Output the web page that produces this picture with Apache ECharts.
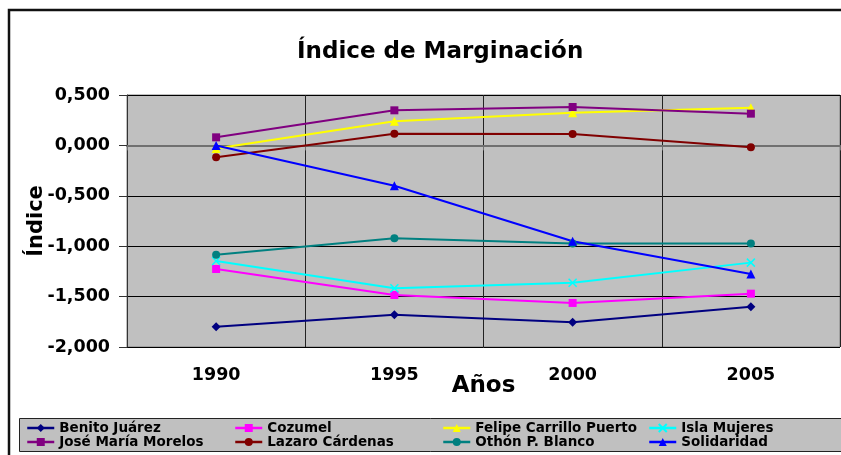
<!DOCTYPE html>
<html>
<head>
<meta charset="utf-8">
<script src="https://cdn.jsdelivr.net/npm/echarts@6/dist/echarts.min.js"></script>
<style>
  html, body { margin: 0; padding: 0; background: #fff; }
  #chart { width: 841px; height: 455px; }
</style>
</head>
<body>
<div id="chart"></div>
<script>
var years = ["1990", "1995", "2000", "2005"];
var yTicks = [-2, -1.5, -1, -0.5, 0, 0.5];

var benitoJuarez = [-1.80, -1.68, -1.755, -1.60];
var cozumel = [-1.226, -1.484, -1.563, -1.471];
var felipeCarrillo = [-0.03, 0.239, 0.325, 0.374];
var islaMujeres = [-1.147, -1.418, -1.362, -1.163];
var joseMaria = [0.08, 0.348, 0.381, 0.315];
var lazaroCardenas = [-0.118, 0.116, 0.113, -0.019];
var othonBlanco = [-1.084, -0.922, -0.972, -0.972];
var solidaridad = [0.0, -0.40, -0.951, -1.276];

var font = "DejaVu Sans";
var xMark = "path://M0,0L10,10M10,0L0,10";

function serie(name, data, color, symbol, size) {
  var s = {
    name: name,
    type: "line",
    data: data,
    symbol: symbol,
    symbolSize: size,
    showSymbol: true,
    color: color,
    lineStyle: { color: color, width: 2 },
    itemStyle: { color: color }
  };
  if (symbol == xMark) {
    s.itemStyle = { color: color, borderColor: color, borderWidth: 1.5 };
  }
  return s;
}

function legendCol(left, names) {
  return {
    orient: "vertical",
    left: left,
    top: 421,
    padding: 0,
    itemGap: 0,
    itemWidth: 27,
    itemHeight: 10,
    selectedMode: false,
    lineStyle: { width: 2.5 },
    data: names,
    textStyle: {
      fontFamily: font,
      fontWeight: "bold",
      fontSize: 13.5,
      lineHeight: 14,
      color: "#000"
    }
  };
}

var myChart = echarts.init(document.getElementById("chart"));
var option = {
  animation: false,
  backgroundColor: "#fff",
  title: {
    text: "Índice de Marginación",
    left: 297,
    top: 41,
    padding: 0,
    textStyle: {
      fontFamily: font,
      fontWeight: "bold",
      fontSize: 23,
      color: "#000"
    }
  },
  graphic: [
    {
      type: "rect",
      z: -10,
      shape: { x: 9, y: 10, width: 900, height: 500 },
      style: { fill: "none", stroke: "#111", lineWidth: 2.5 }
    },
    {
      type: "rect",
      z: -10,
      shape: { x: 19.5, y: 418.5, width: 900, height: 33 },
      style: { fill: "#C0C0C0", stroke: "#222", lineWidth: 1 }
    }
  ],
  legend: [
    legendCol(26, ["Benito Juárez", "José María Morelos"]),
    legendCol(234, ["Cozumel", "Lazaro Cárdenas"]),
    legendCol(442, ["Felipe Carrillo Puerto", "Othón P. Blanco"]),
    legendCol(648, ["Isla Mujeres", "Solidaridad"])
  ],
  grid: {
    left: 127,
    right: 1,
    top: 95,
    bottom: 108,
    show: true,
    backgroundColor: "#C0C0C0",
    borderColor: "#808080",
    borderWidth: 1
  },
  xAxis: [
    {
      type: "category",
      data: years,
      boundaryGap: true,
      name: "Años",
      nameLocation: "middle",
      nameGap: 28,
      nameMoveOverlap: false,
      nameTextStyle: {
        fontFamily: font,
        fontWeight: "bold",
        fontSize: 23,
        color: "#000",
        verticalAlign: "top"
      },
      axisLine: { show: false, onZero: false },
      axisTick: { show: false },
      axisLabel: {
        margin: 19,
        fontFamily: font,
        fontWeight: "bold",
        fontSize: 17.5,
        color: "#000"
      },
      splitLine: { show: true, interval: 0, lineStyle: { color: "#222", width: 1 } }
    },
    {
      type: "category",
      data: years,
      boundaryGap: true,
      position: "bottom",
      axisLine: { show: true, onZero: true, lineStyle: { color: "#707070", width: 2 } },
      axisTick: { show: true, length: 5, interval: 0, lineStyle: { color: "#707070", width: 1 } },
      axisLabel: { show: false },
      splitLine: { show: false }
    }
  ],
  yAxis: {
    type: "value",
    min: -2,
    max: 0.5,
    interval: 0.5,
    name: "Índice",
    nameLocation: "middle",
    nameGap: 80,
    nameMoveOverlap: false,
    nameTextStyle: {
      fontFamily: font,
      fontWeight: "bold",
      fontSize: 21,
      color: "#000"
    },
    axisLine: { show: true, lineStyle: { color: "#333", width: 1 } },
    axisTick: { show: true, length: 8, lineStyle: { color: "#333", width: 1 } },
    axisLabel: {
      margin: 17,
      fontFamily: font,
      fontWeight: "bold",
      fontSize: 17.5,
      color: "#000",
      formatter: function (v) {
        return v.toFixed(3).replace(".", ",");
      }
    },
    splitLine: { show: true, lineStyle: { color: "#000", width: 1 } }
  },
  series: [
    serie("Benito Juárez", benitoJuarez, "#000080", "diamond", 9),
    serie("Cozumel", cozumel, "#FF00FF", "rect", 8),
    serie("Felipe Carrillo Puerto", felipeCarrillo, "#FFFF00", "triangle", 9),
    serie("Isla Mujeres", islaMujeres, "#00FFFF", xMark, 8),
    serie("José María Morelos", joseMaria, "#800080", "rect", 8),
    serie("Lazaro Cárdenas", lazaroCardenas, "#800000", "circle", 8),
    serie("Othón P. Blanco", othonBlanco, "#008080", "circle", 8),
    serie("Solidaridad", solidaridad, "#0000FF", "triangle", 9)
  ]
};
myChart.setOption(option);
</script>
</body>
</html>
